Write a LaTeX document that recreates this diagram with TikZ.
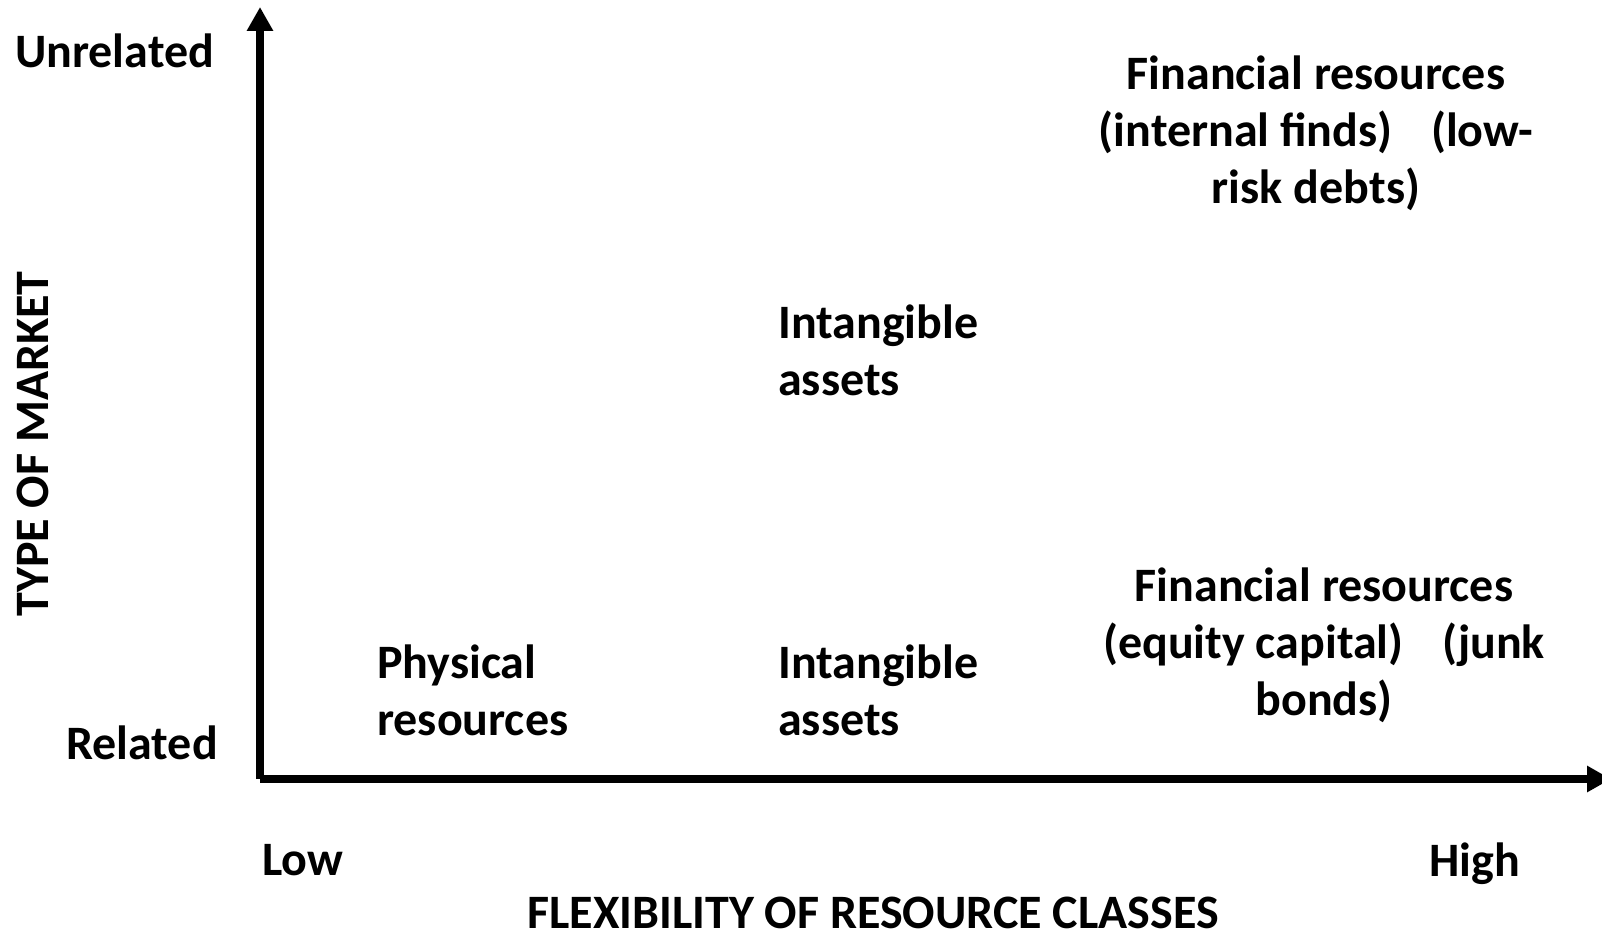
\documentclass[tikz,border=0pt]{standalone}
\usepackage{fontspec}
\setmainfont{Carlito}
\usetikzlibrary{arrows.meta}
\tikzset{
  lbl/.style={font=\bfseries\fontsize{48}{57}\selectfont, inner sep=0pt, text depth=0pt},
  axis/.style={line width=8pt, -{Triangle[width=25pt,length=24pt]}},
}
\begin{document}
\begin{tikzpicture}[x=1pt,y=-1pt]
\useasboundingbox (0,0) rectangle (1602,933);
\coordinate (o) at (260,779);
\coordinate (ytop) at (260,7);
\coordinate (xend) at (1611,779);
\draw[axis] (o) -- (ytop);
\draw[axis] (o) -- (xend);

\node[lbl, anchor=west] (unrel) at (15,51) {Unrelated};
\node[lbl, anchor=east] (rel) at (218,743) {Related};
\node[lbl, anchor=west] (low) at (262,860) {Low};
\node[lbl, anchor=east] (high) at (1520,860) {High};
\node[lbl] (xlab) at (873,913) {FLEXIBILITY OF RESOURCE CLASSES};
\node[lbl, rotate=90] (ylab) at (33,444) {TYPE OF MARKET};

\node[lbl, align=center] (fin1) at (1316,130) {Financial resources\\(internal finds)\hspace{0.8em}(low-\\risk debts)};
\node[lbl, align=left, anchor=west] (int1) at (778,350) {Intangible\\assets};
\node[lbl, align=left, anchor=west] (phys) at (377,690) {Physical\\resources};
\node[lbl, align=left, anchor=west] (int2) at (778,690) {Intangible\\assets};
\node[lbl, align=center] (fin2) at (1324,642) {Financial resources\\(equity capital)\hspace{0.8em}(junk\\bonds)};
\end{tikzpicture}
\end{document}
